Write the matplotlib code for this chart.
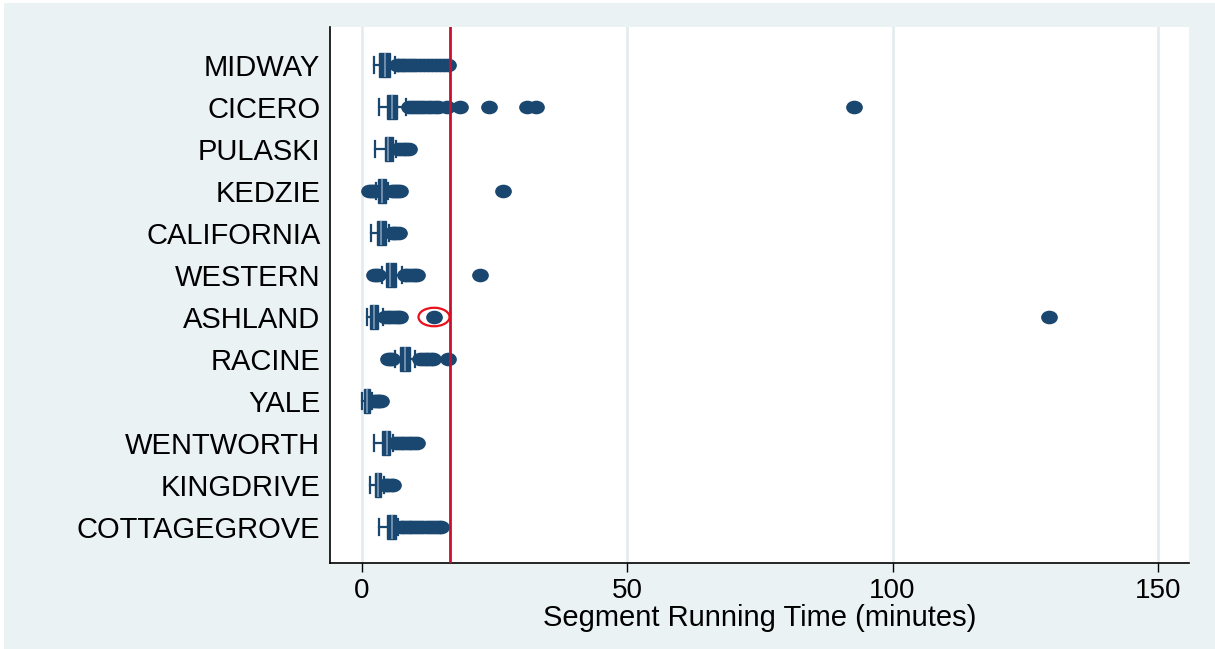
import numpy as np
import matplotlib
matplotlib.use("Agg")
import matplotlib.pyplot as plt
from matplotlib.patches import Ellipse, Rectangle
from matplotlib.path import Path
from matplotlib.transforms import Affine2D

plt.rcParams['font.family'] = ['Liberation Sans', 'DejaVu Sans']

# datos (minutos), de arriba hacia abajo
segmentos = ["MIDWAY", "CICERO", "PULASKI", "KEDZIE", "CALIFORNIA", "WESTERN",
             "ASHLAND", "RACINE", "YALE", "WENTWORTH", "KINGDRIVE", "COTTAGEGROVE"]
bigote_min = [2.3, 3.2, 2.5, 2.7, 1.8, 3.8, 1.0, 6.2, 0.1, 2.3, 1.5, 3.3]
q1 = [3.3, 4.8, 4.3, 3.1, 2.9, 4.5, 1.6, 7.2, 0.4, 3.8, 2.5, 4.8]
mediana = [4.3, 5.6, 5.0, 3.8, 3.7, 5.4, 2.3, 8.1, 0.9, 4.7, 3.0, 5.6]
q3 = [5.3, 6.7, 5.8, 4.5, 4.5, 6.4, 3.0, 9.1, 1.5, 5.4, 3.6, 6.4]
bigote_max = [6.2, 8.4, 6.5, 5.0, 5.2, 7.5, 4.0, 10.0, 1.9, 5.9, 4.1, 6.9]
atipicos = [
    [6.6, 7.0, 7.5, 8.0, 8.5, 9.0, 9.6, 10.2, 11.0, 11.8, 12.5, 13.3, 14.0, 14.8, 15.5, 16.2],
    [8.9, 9.4, 10.0, 10.6, 11.2, 11.8, 12.4, 13.0, 13.7, 14.4, 16.0, 18.5, 24.0, 31.1, 32.8, 92.8],
    [6.9, 7.4, 7.9, 8.4, 8.9],
    [1.3, 1.7, 2.1, 2.4, 5.6, 6.0, 6.4, 6.8, 7.2, 26.6],
    [5.7, 6.1, 6.5, 7.0],
    [2.3, 2.7, 3.1, 8.1, 8.6, 9.1, 9.6, 10.1, 10.4, 22.2],
    [4.4, 4.9, 5.4, 5.9, 6.4, 6.8, 7.2, 13.6, 129.4],
    [4.9, 5.3, 5.7, 11.0, 11.5, 12.0, 12.5, 13.0, 13.4, 16.2],
    [2.2, 2.6, 3.0, 3.3, 3.6],
    [6.3, 6.8, 7.3, 7.8, 8.3, 8.8, 9.3, 9.8, 10.3],
    [4.4, 4.8, 5.2, 5.6, 5.9],
    [7.3, 7.8, 8.3, 8.8, 9.3, 9.8, 10.4, 11.0, 11.6, 12.2, 12.8, 13.4, 14.0, 14.5, 14.9],
]
limite = 16.7          # linea roja de referencia
marcado = 13.6         # punto encerrado en ASHLAND
ticks_x = [0, 50, 100, 150]

azul = "#1a476f"
fondo = "#eaf2f3"

fig = plt.figure(figsize=(12.15, 6.49), dpi=100, facecolor="white")
fig.patches.append(Rectangle((4 / 1215, 0), 1, 1 - 3 / 649, transform=fig.transFigure,
                             facecolor=fondo, edgecolor="none", zorder=-1))
ax = fig.add_axes([0.2716, 0.1325, 0.707, 0.8259])

pos = np.arange(len(segmentos))
stats = []
for i, nombre in enumerate(segmentos):
    stats.append(dict(label=nombre, whislo=bigote_min[i], q1=q1[i], med=mediana[i],
                      q3=q3[i], whishi=bigote_max[i], fliers=atipicos[i]))

# marcador eliptico (el original esta estirado en horizontal)
elipse = Path.unit_circle().transformed(Affine2D().scale(1.0, 0.8))

ax.bxp(stats, positions=pos, orientation="horizontal", widths=0.55, capwidths=0.36,
       patch_artist=True,
       boxprops=dict(facecolor=azul, edgecolor=azul, linewidth=1),
       whiskerprops=dict(color=azul, linewidth=1.6),
       capprops=dict(color=azul, linewidth=1.6),
       medianprops=dict(color="#7f9cb9", linewidth=1.2),
       flierprops=dict(marker=elipse, markersize=11, markerfacecolor=azul,
                       markeredgecolor=azul, linestyle="none"))

ax.axvline(limite, color="#c8102e", linewidth=2, zorder=4)
fila = segmentos.index("ASHLAND")
ax.add_patch(Ellipse((marcado, fila), width=5.85, height=0.44, facecolor="none",
                     edgecolor="#e8101a", linewidth=1.6, zorder=5))

ax.set_xlim(-6, 155.85)
ax.set_ylim(11.857, -0.905)
ax.set_xticks(ticks_x)
ax.set_yticks(pos)
ax.set_yticklabels(segmentos)
ax.tick_params(axis="y", length=0, pad=7, labelsize=21)
ax.tick_params(axis="x", length=6.5, width=1, pad=4, labelsize=20)
ax.xaxis.grid(True, color="#e4ecef", linewidth=2)
ax.set_axisbelow(True)
for lado in ["top", "right"]:
    ax.spines[lado].set_visible(False)
ax.spines["left"].set_linewidth(1.2)
ax.spines["bottom"].set_linewidth(1.2)
ax.set_xlabel("Segment Running Time (minutes)", fontsize=21, labelpad=0)

fig.savefig("out.png", dpi=100, facecolor=fig.get_facecolor())
plt.close(fig)
